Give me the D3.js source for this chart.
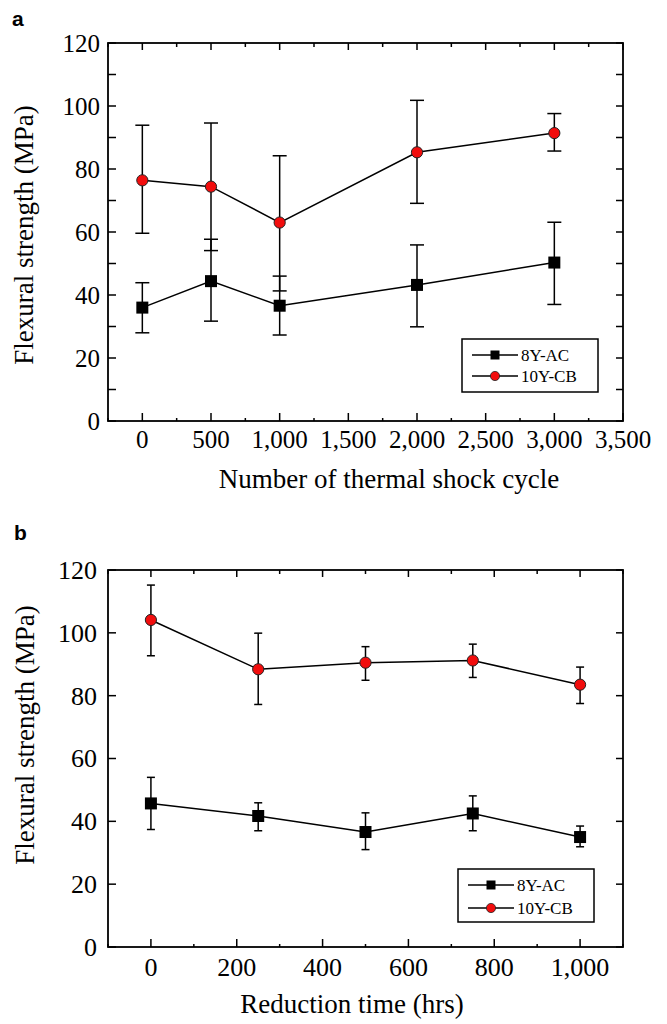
<!DOCTYPE html>
<html>
<head>
<meta charset="utf-8">
<script src="https://cdn.jsdelivr.net/npm/d3@7"></script>
<style>
  html, body { margin: 0; padding: 0; background: #fff; }
  svg { display: block; }
</style>
</head>
<body>
<svg id="chart" width="667" height="1024"></svg>
<script>
// ---------- DATA ----------
const seriesNames = ["8Y-AC", "10Y-CB"];
const yTickValues = [0, 20, 40, 60, 80, 100, 120];

// Panel a: thermal shock cycles
const cyclesA = [0, 500, 1000, 2000, 3000];
const acA    = [36.0, 44.4, 36.6, 43.2, 50.3];
const acA_lo = [28.0, 31.7, 27.3, 29.9, 37.0];
const acA_hi = [43.9, 57.7, 46.0, 55.9, 63.1];
const cbA    = [76.4, 74.4, 63.0, 85.3, 91.4];
const cbA_lo = [59.6, 54.1, 41.3, 69.1, 85.7];
const cbA_hi = [93.9, 94.6, 84.2, 101.8, 97.6];
const xTicksA = [0, 500, 1000, 1500, 2000, 2500, 3000, 3500];

// Panel b: reduction time
const hoursB = [0, 250, 500, 750, 1000];
const acB    = [45.7, 41.7, 36.6, 42.5, 35.0];
const acB_lo = [37.4, 37.0, 31.0, 37.0, 31.9];
const acB_hi = [54.0, 45.9, 42.7, 48.1, 38.5];
const cbB    = [104.1, 88.4, 90.5, 91.2, 83.5];
const cbB_lo = [92.7, 77.2, 84.9, 85.8, 77.5];
const cbB_hi = [115.2, 99.9, 95.6, 96.4, 89.1];
const xTicksB = [0, 200, 400, 600, 800, 1000];

// ---------- DRAWING ----------
const svg = d3.select("#chart");
const serif = "'Liberation Serif', 'Times New Roman', serif";
const RED = "#f20d0d";
const fmt = d3.format(",");

function zip(xs, ys, lo, hi) {
  return xs.map((x, i) => ({ x, y: ys[i], lo: lo[i], hi: hi[i] }));
}

function drawPanel(cfg) {
  const g = svg.append("g");
  const x = d3.scaleLinear().domain(cfg.xDomain).range([cfg.left, cfg.right]);
  const y = d3.scaleLinear().domain([0, 120]).range([cfg.bottom, cfg.top]);

  // panel letter
  g.append("text").attr("x", cfg.letterX).attr("y", cfg.letterY)
    .attr("font-family", "'Liberation Sans', Arial, sans-serif")
    .attr("font-weight", "bold").attr("font-size", 21).text(cfg.letter);

  // ticks
  const tickG = g.append("g").attr("stroke", "#000").attr("stroke-width", 1.5);
  const xMinor = d3.range(cfg.xDomain[0], cfg.xDomain[1] + 1e-6, cfg.xMinorStep)
    .filter(v => !cfg.xTicks.includes(v));
  cfg.xTicks.forEach(v => {
    tickG.append("line").attr("x1", x(v)).attr("x2", x(v))
      .attr("y1", cfg.bottom).attr("y2", cfg.bottom - 8);
    tickG.append("line").attr("x1", x(v)).attr("x2", x(v))
      .attr("y1", cfg.top).attr("y2", cfg.top + 7);
  });
  xMinor.forEach(v => {
    tickG.append("line").attr("x1", x(v)).attr("x2", x(v))
      .attr("y1", cfg.bottom).attr("y2", cfg.bottom - 3);
    tickG.append("line").attr("x1", x(v)).attr("x2", x(v))
      .attr("y1", cfg.top).attr("y2", cfg.top + 4);
  });
  const yTickAll = cfg.yMinor ? d3.range(0, 121, 10) : yTickValues;
  yTickAll.forEach(v => {
    tickG.append("line").attr("x1", cfg.left).attr("x2", cfg.left + 8)
      .attr("y1", y(v)).attr("y2", y(v));
    tickG.append("line").attr("x1", cfg.right).attr("x2", cfg.right - 7)
      .attr("y1", y(v)).attr("y2", y(v));
  });

  // frame
  g.append("rect").attr("x", cfg.left).attr("y", cfg.top)
    .attr("width", cfg.right - cfg.left).attr("height", cfg.bottom - cfg.top)
    .attr("fill", "none").attr("stroke", "#000").attr("stroke-width", 1.8);

  // tick labels
  cfg.xTicks.forEach(v => {
    g.append("text").attr("x", x(v)).attr("y", cfg.bottom + cfg.xLabelDy)
      .attr("text-anchor", "middle").attr("font-family", serif)
      .attr("font-size", cfg.tickFont).text(fmt(v));
  });
  yTickValues.forEach(v => {
    g.append("text").attr("x", cfg.yLabelX).attr("y", y(v) + cfg.tickFont * 0.34)
      .attr("text-anchor", "end").attr("font-family", serif)
      .attr("font-size", cfg.tickFont).text(v);
  });

  // axis titles
  g.append("text").attr("x", cfg.xTitleX).attr("y", cfg.xTitleY)
    .attr("text-anchor", "middle").attr("font-family", serif)
    .attr("font-size", 27).text(cfg.xTitle);
  g.append("text")
    .attr("transform", `translate(${cfg.yTitleX},${cfg.yTitleY}) rotate(-90)`)
    .attr("text-anchor", "middle").attr("font-family", serif)
    .attr("font-size", 27).text("Flexural strength (MPa)");

  const line = d3.line().x(d => x(d.x)).y(d => y(d.y));

  cfg.series.forEach((s, si) => {
    const sg = g.append("g");
    sg.append("path").datum(s.data).attr("d", line)
      .attr("fill", "none").attr("stroke", "#000").attr("stroke-width", 1.5);
    // error bars
    const eb = sg.append("g").attr("stroke", "#000").attr("stroke-width", 1.5);
    s.data.forEach(d => {
      eb.append("line").attr("x1", x(d.x)).attr("x2", x(d.x))
        .attr("y1", y(d.lo)).attr("y2", y(d.hi));
      [d.lo, d.hi].forEach(v => {
        eb.append("line").attr("x1", x(d.x) - cfg.cap / 2).attr("x2", x(d.x) + cfg.cap / 2)
          .attr("y1", y(v)).attr("y2", y(v));
      });
    });
  });
  // markers on top
  cfg.series.forEach((s, si) => {
    s.data.forEach(d => {
      if (si === 0) {
        g.append("rect").attr("x", x(d.x) - 6).attr("y", y(d.y) - 6)
          .attr("width", 12).attr("height", 12).attr("fill", "#000");
      } else {
        g.append("circle").attr("cx", x(d.x)).attr("cy", y(d.y)).attr("r", 5.6)
          .attr("fill", RED).attr("stroke", "#222").attr("stroke-width", 1);
      }
    });
  });

  // legend
  const L = cfg.legend;
  const lg = g.append("g");
  lg.append("rect").attr("x", L.x).attr("y", L.y).attr("width", L.w).attr("height", L.h)
    .attr("fill", "#fff").attr("stroke", "#000").attr("stroke-width", 1.5);
  seriesNames.forEach((name, i) => {
    const ry = L.y + L.row0 + i * L.rowGap;
    lg.append("line").attr("x1", L.x + 10).attr("x2", L.x + 56)
      .attr("y1", ry).attr("y2", ry).attr("stroke", "#000").attr("stroke-width", 1.5);
    if (i === 0) {
      lg.append("rect").attr("x", L.x + 33 - 4.5).attr("y", ry - 4.5)
        .attr("width", 9).attr("height", 9).attr("fill", "#000");
    } else {
      lg.append("circle").attr("cx", L.x + 33).attr("cy", ry).attr("r", 4.6)
        .attr("fill", RED).attr("stroke", "#222").attr("stroke-width", 0.8);
    }
    lg.append("text").attr("x", L.x + 59).attr("y", ry + 5.5)
      .attr("font-family", serif).attr("font-size", 17).text(name);
  });
}

drawPanel({
  letter: "a", letterX: 12, letterY: 26,
  left: 108, right: 623, top: 43, bottom: 421,
  xDomain: [-250, 3500], xTicks: xTicksA, xMinorStep: 250, yMinor: true,
  tickFont: 25, xLabelDy: 27, yLabelX: 100,
  xTitle: "Number of thermal shock cycle", xTitleX: 389, xTitleY: 488,
  yTitleX: 33, yTitleY: 235,
  cap: 14,
  series: [
    { data: zip(cyclesA, acA, acA_lo, acA_hi) },
    { data: zip(cyclesA, cbA, cbA_lo, cbA_hi) }
  ],
  legend: { x: 462, y: 339, w: 136, h: 53, row0: 16, rowGap: 21 }
});

drawPanel({
  letter: "b", letterX: 14, letterY: 540,
  left: 108, right: 623, top: 570, bottom: 947,
  xDomain: [-100, 1100], xTicks: xTicksB, xMinorStep: 100, yMinor: false,
  tickFont: 26, xLabelDy: 29, yLabelX: 97,
  xTitle: "Reduction time (hrs)", xTitleX: 352, xTitleY: 1013,
  yTitleX: 34, yTitleY: 735,
  cap: 8,
  series: [
    { data: zip(hoursB, acB, acB_lo, acB_hi) },
    { data: zip(hoursB, cbB, cbB_lo, cbB_hi) }
  ],
  legend: { x: 458, y: 869, w: 136, h: 53, row0: 16, rowGap: 23 }
});
</script>
</body>
</html>
